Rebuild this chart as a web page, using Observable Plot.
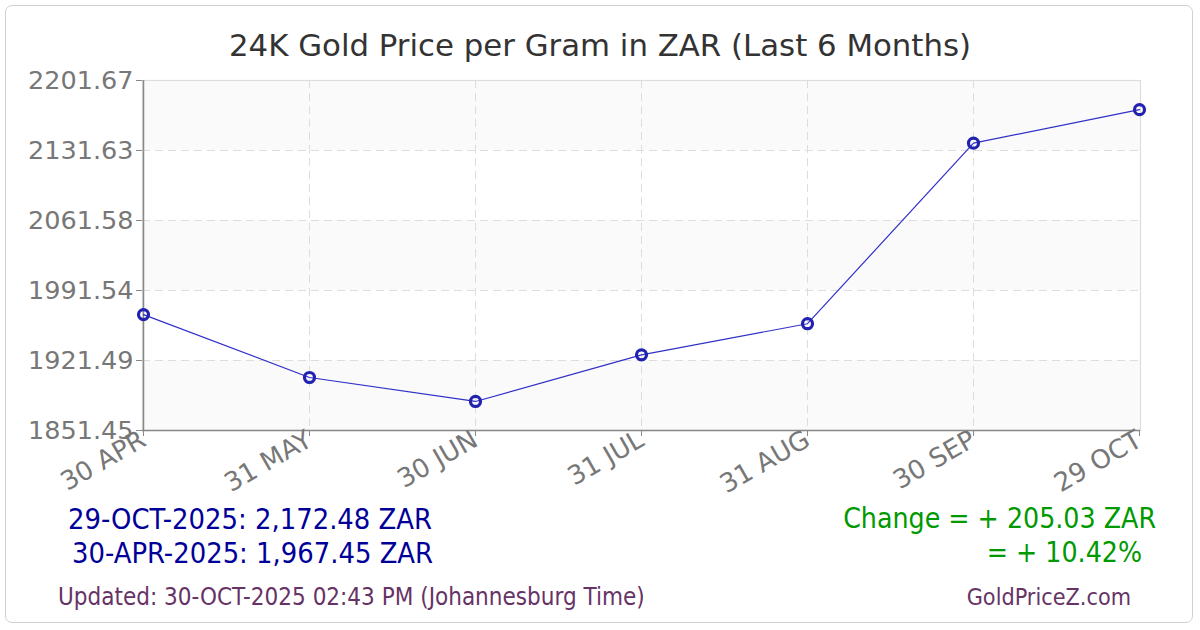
<!DOCTYPE html>
<html>
<head>
<meta charset="utf-8">
<script src="https://cdn.jsdelivr.net/npm/d3@7"></script>
<script src="https://cdn.jsdelivr.net/npm/@observablehq/plot@0.6"></script>
<style>
  html, body { margin: 0; padding: 0; background: #fff; }
  #wrap { position: relative; width: 1200px; height: 630px; overflow: hidden; font-family: "DejaVu Sans", Verdana, sans-serif; }
  #border { position: absolute; left: 5px; top: 5px; width: 1188px; height: 618px; border: 1.5px solid #d0d0d0; border-radius: 7px; box-sizing: border-box; }
  #chart { position: absolute; left: 0; top: 0; }
  .t { position: absolute; white-space: nowrap; line-height: 1; }
  #title { left: 0; width: 1200px; top: 30px; text-align: center; font-size: 30.8px; color: #333; font-family: "DejaVu Sans", sans-serif; }
  .cond { font-family: "DejaVu Sans Condensed", "DejaVu Sans", sans-serif; }
</style>
</head>
<body>
<div id="wrap">
  <div id="border"></div>
  <div id="chart"></div>
  <div id="title" class="t">24K Gold Price per Gram in ZAR (Last 6 Months)</div>
  <div class="t cond" style="left:68px; top:505px; font-size:28.8px; color:#000099;">29-OCT-2025: 2,172.48 ZAR</div>
  <div class="t cond" style="left:72px; top:539px; font-size:28.8px; color:#000099;">30-APR-2025: 1,967.45 ZAR</div>
  <div class="t cond" style="right:44px; top:505px; font-size:28.2px; color:#009900;">Change = + 205.03 ZAR</div>
  <div class="t cond" style="right:58px; top:539px; font-size:28.2px; color:#009900;">= + 10.42%</div>
  <div class="t cond" style="left:58px; top:585px; font-size:24px; color:#663366;">Updated: 30-OCT-2025 02:43 PM (Johannesburg Time)</div>
  <div class="t cond" style="right:69px; top:585px; font-size:23.2px; color:#663366;">GoldPriceZ.com</div>
</div>
<script>
const dates = ["30 APR", "31 MAY", "30 JUN", "31 JUL", "31 AUG", "30 SEP", "29 OCT"];
const prices = [1967.45, 1904.5, 1880.5, 1927.2, 1958.3, 2139.0, 2172.48];
const yTicks = [1851.45, 1921.49, 1991.54, 2061.58, 2131.63, 2201.67];

const data = dates.map((d, i) => ({date: d, price: prices[i]}));
const bands = [];
for (let i = 0; i < yTicks.length - 1; i++) {
  bands.push({y1: yTicks[i], y2: yTicks[i + 1], fill: (i % 2 === 0) ? "#fafafa" : "#ffffff"});
}

const chart = Plot.plot({
  width: 1200,
  height: 500,
  marginLeft: 142,
  marginRight: 60,
  marginTop: 80,
  marginBottom: 70,
  style: {fontFamily: "DejaVu Sans, sans-serif", background: "transparent"},
  x: {type: "point", domain: dates, padding: 0},
  y: {type: "linear", domain: [yTicks[0], yTicks[yTicks.length - 1]]},
  marks: [
    Plot.rect(bands, {y1: "y1", y2: "y2", fill: "fill"}),
    Plot.ruleY(yTicks.slice(1, -1), {stroke: "#dddddd", strokeDasharray: "8,5", strokeWidth: 1}),
    Plot.ruleX(dates.slice(1, -1), {stroke: "#dddddd", strokeDasharray: "8,5", strokeWidth: 1}),
    Plot.frame({stroke: "#dddddd", strokeWidth: 1.2}),
    Plot.ruleX([dates[0]], {stroke: "#888", strokeWidth: 1.5}),
    Plot.ruleY([yTicks[0]], {stroke: "#888", strokeWidth: 1.5}),
    Plot.axisY({ticks: yTicks, tickFormat: d => d.toFixed(2), fontSize: 25.5, color: "#777", tickSize: 6, tickPadding: 3, label: null, stroke: "#888"}),
    Plot.axisX({ticks: dates, tickRotate: -30, fontSize: 26, color: "#777", tickSize: 6, tickPadding: 1, label: null, stroke: "#888"}),
    Plot.line(data, {x: "date", y: "price", stroke: "#3030c8", strokeWidth: 1.2}),
    Plot.dot(data, {x: "date", y: "price", r: 5, stroke: "#2222b0", strokeWidth: 3.2, fill: "none"})
  ]
});
document.getElementById("chart").appendChild(chart);
</script>
</body>
</html>
